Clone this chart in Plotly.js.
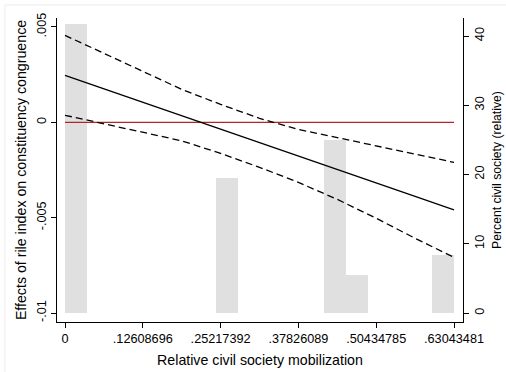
<!DOCTYPE html>
<html>
<head>
<meta charset="utf-8">
<script src="https://cdn.plot.ly/plotly-3.0.1.min.js"></script>
<style>
html,body{margin:0;padding:0;background:#fff;}
#chart{width:506px;height:372px;}
</style>
</head>
<body>
<div id="chart"></div>
<script>
// Histogram of relative civil society mobilization (percent, right axis)
var binCenters = [0.017512, 0.262683, 0.437805, 0.472829, 0.612923];
var binPercent = [41.67, 19.44, 25.0, 5.56, 8.33];
var binWidth = 0.035024;

// Marginal effect of rile index and 95% CI
var gridX = [0, 0.063043, 0.126087, 0.189130, 0.252174, 0.315217, 0.378261, 0.441304, 0.504348, 0.567391, 0.630435];
var effect = [0.00246, 0.00176, 0.00105, 0.00034, -0.00037, -0.00107, -0.00176, -0.00246, -0.00318, -0.00388, -0.00459];
var upperCI = [0.00456, 0.00362, 0.00267, 0.00173, 0.00094, 0.00021, -0.00037, -0.00081, -0.00124, -0.00166, -0.00210];
var lowerCI = [0.00037, -0.00008, -0.00052, -0.00097, -0.00163, -0.00236, -0.00315, -0.00404, -0.00503, -0.00608, -0.00708];

// Reference line at zero
var refX = [0, 0.63043481];
var refY = [0, 0];

var xTickVals = [0, 0.12608696, 0.25217392, 0.37826089, 0.50434785, 0.63043481];
var xTickText = ["0", ".12608696", ".25217392", ".37826089", ".50434785", ".63043481"];
var yTickVals = [-0.01, -0.005, 0, 0.005];
var yTickText = ["-.01", "-.005", "0", ".005"];
var y2TickVals = [0, 10, 20, 30, 40];
var y2TickText = ["0", "10", "20", "30", "40"];

var FONT = "Liberation Sans, Arial, sans-serif";

// Bars sit on the base axis "y" (right side, percent); lines on the
// overlaying axis "y2" (left side, effects) so they are drawn on top.
var traces = [
  {
    type: "bar", x: binCenters, y: binPercent, width: binWidth,
    yaxis: "y", marker: {color: "#e0e0e0", line: {width: 0}},
    hoverinfo: "skip", showlegend: false
  },
  {
    type: "scatter", mode: "lines", x: refX, y: refY, yaxis: "y2",
    line: {color: "#b0262e", width: 1.3}, showlegend: false
  },
  {
    type: "scatter", mode: "lines", x: gridX, y: upperCI, yaxis: "y2",
    line: {color: "#000", width: 1.3, dash: "7px,4px"}, showlegend: false
  },
  {
    type: "scatter", mode: "lines", x: gridX, y: effect, yaxis: "y2",
    line: {color: "#000", width: 1.3}, showlegend: false
  },
  {
    type: "scatter", mode: "lines", x: gridX, y: lowerCI, yaxis: "y2",
    line: {color: "#000", width: 1.3, dash: "7px,4px"}, showlegend: false
  }
];

var layout = {
  width: 506, height: 372,
  margin: {l: 57, r: 43, t: 18, b: 50, pad: 0},
  paper_bgcolor: "#fff", plot_bgcolor: "#fff",
  font: {family: FONT, color: "#000", size: 12.7},
  showlegend: false,
  bargap: 0,
  xaxis: {
    range: [-0.01297, 0.64502],
    tickmode: "array", tickvals: xTickVals, ticktext: xTickText,
    ticks: "outside", ticklen: 5, tickwidth: 1, tickcolor: "#000",
    showline: true, linecolor: "#000", linewidth: 1,
    showgrid: false, zeroline: false,
    tickfont: {family: FONT, size: 12.7, color: "#000"},
    title: {text: "Relative civil society mobilization", font: {family: FONT, size: 14.2, color: "#000"}, standoff: 9}
  },
  yaxis2: {
    range: [-0.01047, 0.00547],
    overlaying: "y", side: "left",
    tickmode: "array", tickvals: yTickVals, ticktext: yTickText,
    tickangle: -90,
    ticks: "outside", ticklen: 5, tickwidth: 1, tickcolor: "#000",
    showline: true, linecolor: "#000", linewidth: 1,
    showgrid: false, zeroline: false,
    tickfont: {family: FONT, size: 12.7, color: "#000"},
    title: {text: "Effects of rile index on constituency congruence", font: {family: FONT, size: 14.2, color: "#000"}, standoff: 4}
  },
  yaxis: {
    range: [-1.3, 42.6],
    side: "right",
    tickmode: "array", tickvals: y2TickVals, ticktext: y2TickText,
    tickangle: -90,
    ticks: "outside", ticklen: 5, tickwidth: 1, tickcolor: "#000",
    showline: true, linecolor: "#000", linewidth: 1,
    showgrid: false, zeroline: false,
    tickfont: {family: FONT, size: 12.7, color: "#000"},
    title: {text: "Percent civil society (relative)", font: {family: FONT, size: 12.2, color: "#000"}, standoff: 6}
  },
  shapes: [
    {type: "line", xref: "paper", yref: "paper", x0: -0.1281, x1: 1.2, y0: 1.0428, y1: 1.0428, line: {color: "#ececec", width: 1}},
    {type: "line", xref: "paper", yref: "paper", x0: -0.1281, x1: -0.1281, y0: 1.0428, y1: -0.2, line: {color: "#ececec", width: 1}}
  ]
};

Plotly.newPlot("chart", traces, layout, {displayModeBar: false, staticPlot: true});
</script>
</body>
</html>
